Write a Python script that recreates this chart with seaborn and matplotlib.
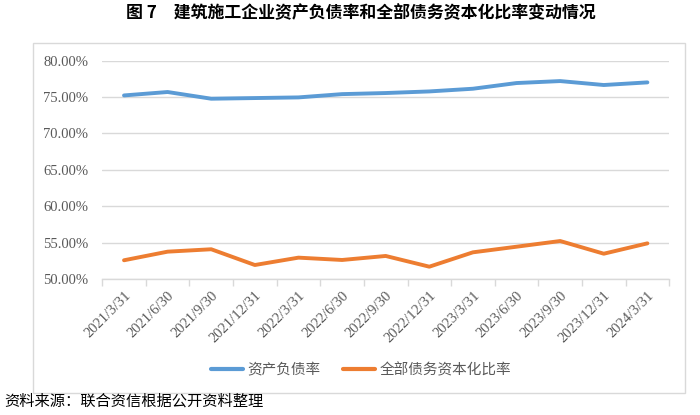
import matplotlib
matplotlib.use("Agg")
import matplotlib.pyplot as plt
import seaborn as sns
import pandas as pd
from matplotlib.patches import Rectangle
from matplotlib.ticker import FuncFormatter, FixedLocator

dates = ["2021/3/31", "2021/6/30", "2021/9/30", "2021/12/31", "2022/3/31", "2022/6/30",
         "2022/9/30", "2022/12/31", "2023/3/31", "2023/6/30", "2023/9/30", "2023/12/31",
         "2024/3/31"]
debt_ratio = [75.22, 75.69, 74.77, 74.86, 74.95, 75.40, 75.55, 75.77, 76.14, 76.92, 77.19, 76.65, 77.01]
cap_ratio = [52.61, 53.79, 54.12, 51.96, 52.97, 52.65, 53.20, 51.73, 53.70, 54.47, 55.25, 53.51, 54.93]
series_names = ["资产负债率", "全部债务资本化比率"]
colors = ["#5B9BD5", "#ED7D31"]

df = pd.DataFrame({
    "date": dates * 2,
    "value": debt_ratio + cap_ratio,
    "series": [series_names[0]] * len(dates) + [series_names[1]] * len(dates),
})

sns.set_theme(style="white")
plt.rcParams["font.family"] = ["Noto Sans CJK SC", "DejaVu Sans"]

fig = plt.figure(figsize=(7.0, 4.15), dpi=100)
ax = fig.add_axes([0.146, 0.327, 0.810, 0.527])

sns.lineplot(data=df, x="date", y="value", hue="series", palette=colors,
             linewidth=2.8, sort=False, ax=ax, legend=True)

ax.set_xlim(-0.5, len(dates) - 0.5)
ax.set_ylim(50, 80)
ax.set_yticks([50, 55, 60, 65, 70, 75, 80])
ax.yaxis.set_major_formatter(FuncFormatter(lambda v, p: f"{v:.2f}%"))
ax.grid(axis="y", color="#D9D9D9", linewidth=1)
ax.set_axisbelow(True)
for s in ["left", "right", "top"]:
    ax.spines[s].set_visible(False)
ax.spines["bottom"].set_color("#D9D9D9")
ax.spines["bottom"].set_linewidth(1)
ax.set_xlabel("")
ax.set_ylabel("")

ax.set_xticks(range(len(dates)))
ax.set_xticklabels(dates, rotation=45, ha="right", rotation_mode="anchor",
                   fontsize=10.5, color="#595959", family=["Liberation Serif", "DejaVu Serif"])
ax.xaxis.set_minor_locator(FixedLocator([i - 0.5 for i in range(len(dates) + 1)]))
ax.tick_params(axis="x", which="major", length=0, pad=7)
ax.tick_params(axis="x", which="minor", length=5, color="#D9D9D9", width=1, bottom=True)
ax.tick_params(axis="y", length=0, pad=10)
for lab in ax.get_yticklabels():
    lab.set_family(["Liberation Serif", "DejaVu Serif"])
    lab.set_fontsize(10.5)
    lab.set_color("#595959")

handles, labels = ax.get_legend_handles_labels()
ax.get_legend().remove()
leg = fig.legend(handles, labels, loc="center", bbox_to_anchor=(361 / 700, 1 - 370 / 415),
                 ncol=2, frameon=False, fontsize=10.5, handlelength=2.2, handletextpad=0.3,
                 columnspacing=1.5)
for t in leg.get_texts():
    t.set_color("#595959")
for h in leg.get_lines():
    h.set_linewidth(3)

# outer chart border
fig.patches.append(Rectangle((33 / 700, 1 - 393 / 415), (685 - 33) / 700, (393 - 43) / 415,
                             transform=fig.transFigure, fill=False, edgecolor="#D9D9D9",
                             linewidth=1))

fig.text(361 / 700, 1 - 13 / 415, "图 7　建筑施工企业资产负债率和全部债务资本化比率变动情况",
         ha="center", va="center", fontsize=12.2, fontweight="bold", color="#000000")
fig.text(4 / 700, 1 - 401 / 415, "资料来源：联合资信根据公开资料整理",
         ha="left", va="center", fontsize=11, color="#000000")

fig.savefig("out.png", dpi=100)
